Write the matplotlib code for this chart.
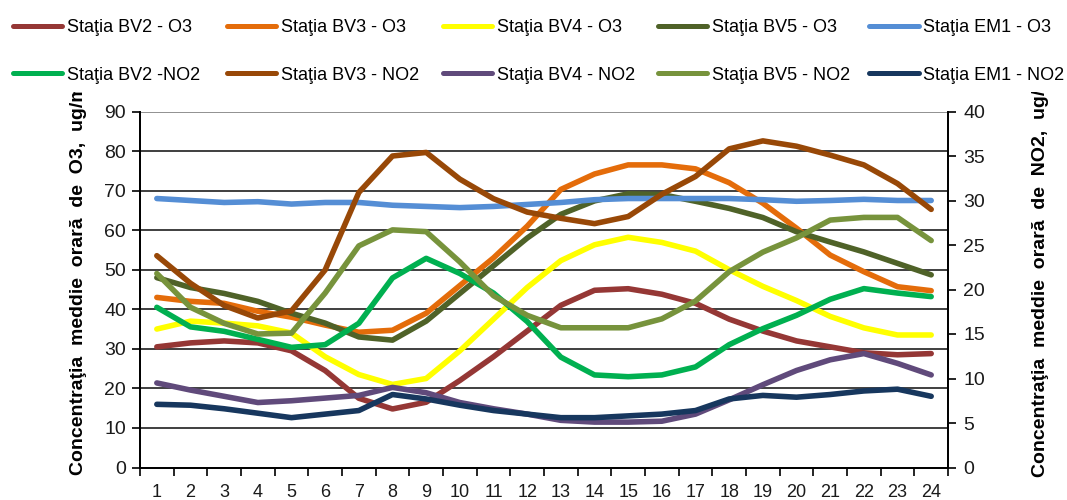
import matplotlib
matplotlib.use("Agg")
import matplotlib.pyplot as plt
from matplotlib.transforms import Bbox, TransformedBbox

plt.rcParams['font.family'] = ['Liberation Sans', 'DejaVu Sans']

hours = list(range(1, 25))

# O3 series (left axis, ug/m3)
bv2_o3 = [30.5, 31.5, 32, 31.5, 29.5, 24.5, 17.5, 14.8, 16.5, 22, 28, 34.5,
          41, 44.8, 45.2, 43.8, 41.5, 37.5, 34.5, 32, 30.5, 29, 28.5, 28.8]
bv3_o3 = [43, 42, 41.5, 39.5, 38, 36, 34.2, 34.7, 39, 46, 53, 61,
          70.3, 74.2, 76.5, 76.5, 75.5, 72, 66.8, 60.5, 53.7, 49.5, 45.7, 44.7]
bv4_o3 = [35, 37, 36.5, 35.8, 34, 28, 23.5, 21, 22.5, 29.5, 37.5, 45.5,
          52.3, 56.3, 58.2, 56.9, 54.7, 50, 45.8, 42.2, 38.2, 35.3, 33.5, 33.5]
bv5_o3 = [48, 45.5, 44, 42, 39, 36.5, 33, 32.2, 37, 44, 51, 58,
          64, 67.4, 69.2, 69, 67.3, 65.5, 63.2, 59.6, 57, 54.5, 51.6, 48.7]
em1_o3 = [68, 67.5, 67, 67.2, 66.6, 67, 67, 66.3, 66, 65.7, 66, 66.5,
          67, 67.7, 68, 68, 68, 68, 67.7, 67.3, 67.5, 67.8, 67.5, 67.5]

# NO2 series (right axis, ug/m3)
bv2_no2 = [18.0, 15.8, 15.3, 14.4, 13.5, 13.8, 16.2, 21.3, 23.5, 21.8, 19.6, 16.4,
           12.4, 10.4, 10.2, 10.4, 11.3, 13.8, 15.6, 17.1, 18.9, 20.1, 19.6, 19.2]
bv3_no2 = [23.8, 20.7, 18.2, 16.8, 17.6, 22.2, 30.9, 35.0, 35.4, 32.4, 30.2, 28.7,
           28.0, 27.4, 28.2, 30.7, 32.7, 35.8, 36.7, 36.1, 35.1, 34.0, 31.9, 29.0]
bv4_no2 = [9.5, 8.7, 8.0, 7.3, 7.5, 7.8, 8.1, 9.0, 8.4, 7.3, 6.6, 6.0,
           5.3, 5.1, 5.1, 5.2, 6.0, 7.6, 9.3, 10.9, 12.1, 12.8, 11.7, 10.4]
bv5_no2 = [21.8, 18.0, 16.2, 15.0, 15.1, 19.6, 24.9, 26.7, 26.5, 23.1, 19.3, 17.1,
           15.7, 15.7, 15.7, 16.7, 18.7, 22.0, 24.2, 25.8, 27.8, 28.1, 28.1, 25.5]
em1_no2 = [7.1, 7.0, 6.6, 6.1, 5.6, 6.0, 6.4, 8.2, 7.7, 7.0, 6.4, 6.0,
           5.6, 5.6, 5.8, 6.0, 6.4, 7.7, 8.1, 7.9, 8.2, 8.6, 8.8, 8.0]

o3_series = [("Staţia BV2 - O3", bv2_o3, "#953735"),
             ("Staţia BV3 - O3", bv3_o3, "#E46C0A"),
             ("Staţia BV4 - O3", bv4_o3, "#FFFF00"),
             ("Staţia BV5 - O3", bv5_o3, "#4F6228"),
             ("Staţia EM1 - O3", em1_o3, "#558ED5")]
no2_series = [("Staţia BV2 -NO2", bv2_no2, "#00B050"),
              ("Staţia BV3 - NO2", bv3_no2, "#984807"),
              ("Staţia BV4 - NO2", bv4_no2, "#604A7B"),
              ("Staţia BV5 - NO2", bv5_no2, "#77933C"),
              ("Staţia EM1 - NO2", em1_no2, "#17375E")]

W, H = 1067, 500
fig = plt.figure(figsize=(W / 100, H / 100), dpi=100)
ax = fig.add_axes([0.1312, 0.065, 0.7573, 0.712])
ax2 = ax.twinx()

LW = 4.0
h_o3 = []
for name, vals, col in o3_series:
    l, = ax.plot(hours, vals, color=col, lw=LW, label=name, solid_joinstyle='round',
                 solid_capstyle='round', zorder=3)
    h_o3.append(l)
h_no2 = []
for name, vals, col in no2_series:
    l, = ax2.plot(hours, vals, color=col, lw=LW, label=name, solid_joinstyle='round',
                  solid_capstyle='round', zorder=3)
    h_no2.append(l)

ax.set_xlim(0.5, 24.5)
ax.set_ylim(0, 90)
ax2.set_ylim(0, 40)
ax.set_yticks(range(0, 91, 10))
ax2.set_yticks(range(0, 41, 5))
ax.set_xticks(hours)
ax.set_xticks([h + 0.5 for h in range(0, 25)], minor=True)
ax.tick_params(axis='x', which='major', length=0, pad=12, labelsize=13)
ax.tick_params(axis='x', which='minor', length=6, width=1.2, direction='out', color='black')
ax.tick_params(axis='y', length=6, width=1.2, direction='out', labelsize=14, pad=4, colors='black')
ax2.tick_params(axis='y', length=6, width=1.2, direction='out', labelsize=14, pad=5, colors='black')
for lab in ax.get_yticklabels() + ax2.get_yticklabels() + ax.get_xticklabels():
    lab.set_color('#1a1a1a')

for y in range(10, 91, 10):
    ax.axhline(y, color='#888888' if y == 90 else '#303030', lw=1.3, zorder=1)

for a in (ax, ax2):
    a.spines['top'].set_visible(False)
    for s in ('left', 'right', 'bottom'):
        a.spines[s].set_color('black')
        a.spines[s].set_linewidth(1.3)
ax.patch.set_visible(False)

# legend: five fixed-position columns (O3 on top row, NO2 below)
col_x = [12.5, 226.5, 442.5, 657.5, 869.0]
for cx, a, b in zip(col_x, h_o3, h_no2):
    leg = fig.legend(handles=[a, b], labels=[a.get_label(), b.get_label()], ncol=1,
                     loc='upper left', bbox_to_anchor=(cx / W, 1 - 19.0 / H), frameon=False,
                     fontsize=13, handlelength=2.75, handletextpad=0.25,
                     labelspacing=1.7, borderaxespad=0.0, borderpad=0.0)
    for lh in leg.get_lines():
        lh.set_linewidth(3.6)
        lh.set_solid_capstyle('round')

clip = TransformedBbox(Bbox([[0, 0], [1, 0.816]]), fig.transFigure)
t1 = fig.text(0.0735, 0.05, "Concentraţia  meddie  orară  de  O3,  ug/mc", rotation=90,
              ha='center', va='bottom', fontsize=14, fontweight='bold')
t2 = fig.text(0.9756, 0.046, "Concentraţia  meddie  orară  de  NO2,  ug/mc", rotation=90,
              ha='center', va='bottom', fontsize=14, fontweight='bold')
for t in (t1, t2):
    t.set_clip_box(clip)
    t.set_clip_on(True)

fig.savefig("out.png", dpi=100)
